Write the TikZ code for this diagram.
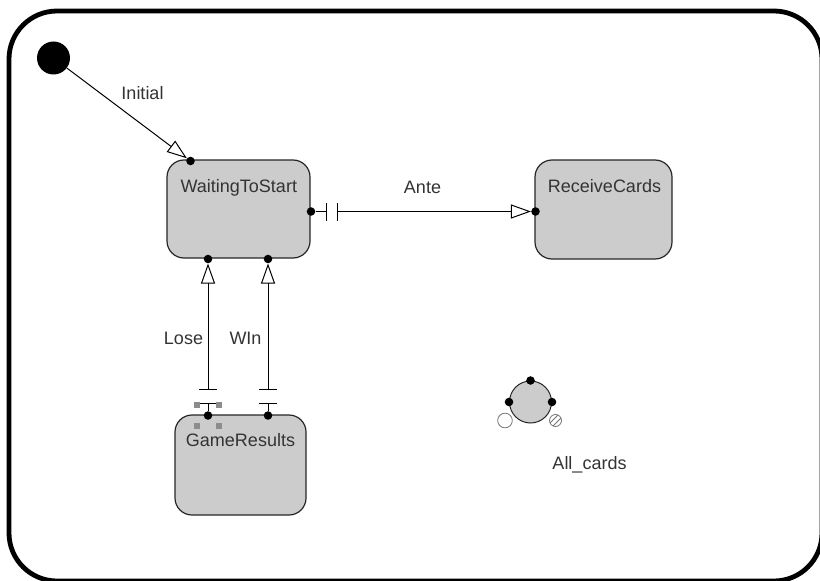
\documentclass[tikz,border=0pt]{standalone}
\usepackage{fontspec}
\setmainfont{Liberation Sans}
\usetikzlibrary{arrows.meta}
\definecolor{stategray}{RGB}{204,204,204}
\begin{document}
\begin{tikzpicture}[x=0.75pt,y=-0.75pt,
  statebox/.style={draw=black!85, fill=stategray, rounded corners=12.75pt, line width=0.9pt, inner sep=0pt},
  dot/.style={circle, fill=black, minimum size=6.4pt, inner sep=0pt},
  conn/.style={draw=black, line width=0.75pt},
  opentri/.style={-{Triangle[open,length=15pt,width=10.5pt,line width=0.75pt]}},
  lbl/.style={font=\fontsize{13.5}{16}\selectfont, text=black!80, inner sep=0pt, anchor=base},
  hatchmark/.style={rectangle, fill=black!45, minimum size=4.5pt, inner sep=0pt},
  smallring/.style={circle, draw=black!55, line width=0.6pt, inner sep=0pt}
]
\useasboundingbox (0,0) rectangle (820,581);
\clip (0,0) rectangle (820,581);
% outer frame
\draw[line width=3.6pt, rounded corners=36pt] (9,11) rectangle (822,581);

% initial state
\node[circle, fill=black, minimum size=24.75pt, inner sep=0pt] (init) at (53.5,58) {};

% states
\node[statebox, minimum width=107.25pt, minimum height=73.5pt] (wts) at (238.5,209) {};
\node[statebox, minimum width=102.75pt, minimum height=74.25pt] (rc) at (603.5,209.5) {};
\node[statebox, minimum width=98.25pt, minimum height=75pt] (gr) at (240.5,465) {};

\node[lbl] (twts) at (238.8,192) {WaitingToStart};
\node[lbl] (trc) at (604.5,192) {ReceiveCards};
\node[lbl] (tgr) at (240.5,446.5) {GameResults};

% connection dots
\node[dot] (dInit) at (190.5,161) {};
\node[dot] (dA1) at (311,211.5) {};
\node[dot] (dA2) at (535.5,211.5) {};
\node[dot] (dL1) at (208,415.5) {};
\node[dot] (dL2) at (208,259) {};
\node[dot] (dW1) at (268,415.5) {};
\node[dot] (dW2) at (268,259) {};

\coordinate (bA1) at (326.5,211.5);
\coordinate (bA2) at (336.5,211.5);
\coordinate (bL1) at (208,402.5);
\coordinate (bL2) at (208,390);
\coordinate (bW1) at (268,402.5);
\coordinate (bW2) at (268,390);

% transitions
\draw[conn, opentri] (init) -- (dInit);
\draw[conn, -{Bar[width=13.5pt,line width=0.75pt]}] (dA1) -- (bA1);
\draw[conn, {Bar[width=13.5pt,line width=0.75pt]}-{Triangle[open,length=15pt,width=10.5pt,line width=0.75pt]}] (bA2) -- (dA2);
\draw[conn, -{Bar[width=11.5pt,line width=0.75pt]}] (dL1) -- (bL1);
\draw[conn, {Bar[width=13.5pt,line width=0.75pt]}-{Triangle[open,length=15pt,width=10.5pt,line width=0.75pt]}] (bL2) -- (dL2);
\draw[conn, -{Bar[width=13.5pt,line width=0.75pt]}] (dW1) -- (bW1);
\draw[conn, {Bar[width=13.5pt,line width=0.75pt]}-{Triangle[open,length=15pt,width=10.5pt,line width=0.75pt]}] (bW2) -- (dW2);

% labels
\node[lbl] (lInit) at (142.5,100) {Initial};
\node[lbl] (lAnte) at (422.5,193) {Ante};
\node[lbl] (lLose) at (183.5,344) {Lose};
\node[lbl] (lWin) at (245.5,344) {WIn};

% hatch marks
\node[hatchmark] (h1) at (196.5,404.5) {};
\node[hatchmark] (h2) at (218.5,404.5) {};
\node[hatchmark] (h3) at (196.5,426) {};
\node[hatchmark] (h4) at (218.5,426) {};

% All_cards junction
\node[circle, draw=black!85, fill=stategray, line width=0.75pt, minimum size=31.5pt, inner sep=0pt] (ac) at (530.5,402) {};
\node[dot] (acN) at (ac.north) {};
\node[dot] (acW) at (ac.west) {};
\node[dot] (acE) at (ac.east) {};
\node[smallring, minimum size=11pt] (o1) at (505,420.5) {};
\node[smallring, minimum size=9pt] (o2) at (555.5,420.5) {};
\begin{scope}
  \clip (555.5,420.5) circle (6);
  \draw[black!55, line width=0.6pt] (549,424) -- (559,414);
  \draw[black!55, line width=0.6pt] (552,427) -- (562,417);
\end{scope}
\node[lbl] (lac) at (589.5,469.5) {All\_cards};
\end{tikzpicture}
\end{document}
